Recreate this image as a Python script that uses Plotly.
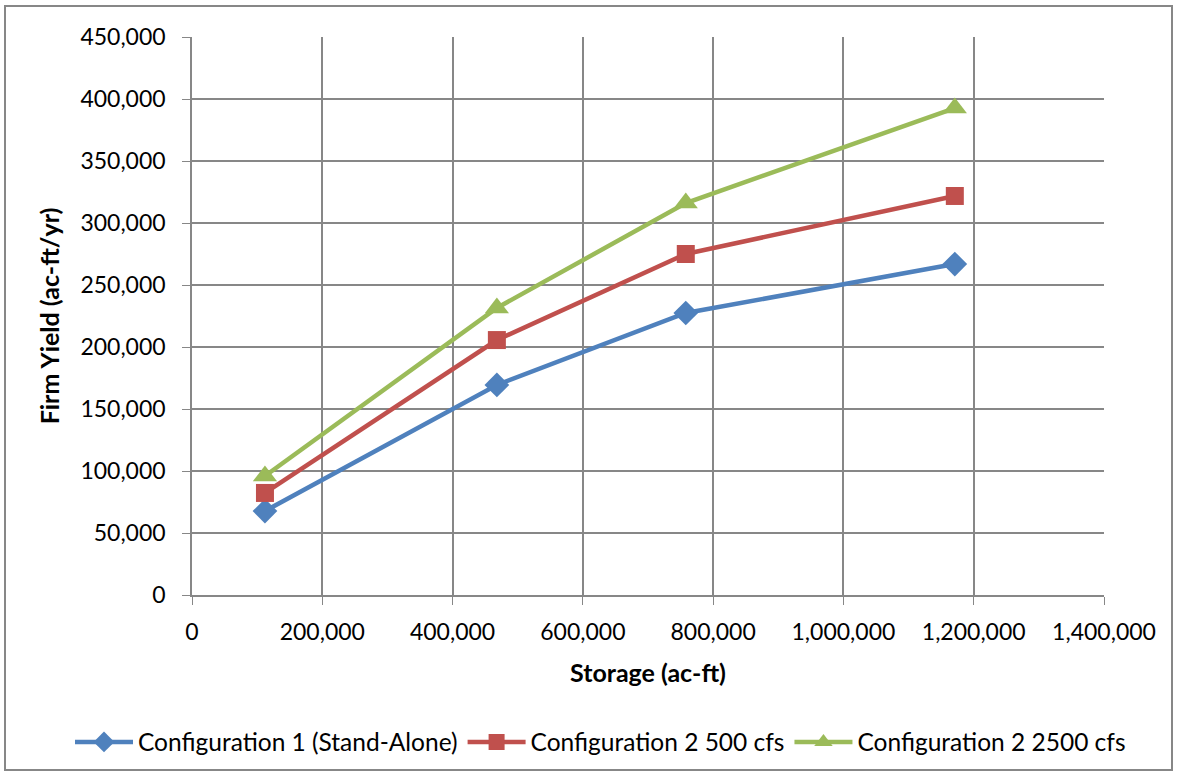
import plotly.graph_objects as go

storage = [112000, 468000, 758000, 1171000]
config1 = [67700, 169400, 227400, 266900]
config2_500 = [82300, 205600, 275000, 321800]
config2_2500 = [96000, 231500, 316100, 392700]

names = ["Configuration 1 (Stand-Alone)", "Configuration 2 500 cfs", "Configuration 2 2500 cfs"]
colors = ["#4F81BD", "#C0504D", "#9BBB59"]
symbols = ["diamond", "square", "triangle-up"]
msizes = [19, 18, 21]
series = [config1, config2_500, config2_2500]

FONT = "Lato"
fig = go.Figure()
for n, c, s, ms, ys in zip(names, colors, symbols, msizes, series):
    fig.add_trace(go.Scatter(
        x=storage, y=ys, name=n, mode="lines+markers",
        line=dict(color=c, width=4.5),
        marker=dict(symbol=s, size=ms, color=c),
    ))

W, H = 1177, 776
L, R, T, B = 192, 73, 37, 181
pw, ph = W - L - R, H - T - B

fig.update_layout(
    width=W, height=H,
    margin=dict(l=L, r=R, t=T, b=B),
    paper_bgcolor="white", plot_bgcolor="white",
    font=dict(family=FONT, size=23, color="#000000"),
    showlegend=True,
    legend=dict(orientation="h", xref="paper", x=(70 - L) / pw, xanchor="left",
                yref="paper", y=-(742 - (T + ph)) / ph, yanchor="middle",
                font=dict(family=FONT, size=24.5), itemwidth=58, tracegroupgap=0),
    xaxis=dict(range=[0, 1400000], dtick=200000, tickformat=",d",
               showgrid=True, gridcolor="#878787", gridwidth=1.5,
               showline=True, linecolor="#878787", linewidth=1.5,
               ticks="outside", ticklen=8, tickcolor="#878787",
               ticklabelstandoff=8,
               zeroline=False,
               title=dict(text="<b>Storage (ac-ft)</b>", font=dict(family=FONT, size=25), standoff=20)),
    yaxis=dict(range=[0, 450000], dtick=50000, tickformat=",d",
               showgrid=True, gridcolor="#878787", gridwidth=1.5,
               showline=True, linecolor="#878787", linewidth=1.5,
               ticks="outside", ticklen=8, tickcolor="#878787",
               ticklabelstandoff=12,
               zeroline=False,
               title=dict(text="<b>Firm Yield (ac-ft/yr)</b>", font=dict(family=FONT, size=25), standoff=14)),
)

# outer chart border
fig.add_shape(type="rect", xref="paper", yref="paper",
              x0=(5 - L) / pw, x1=(1172 - L) / pw,
              y0=-(770 - (T + ph)) / ph, y1=1 + (T - 6) / ph,
              line=dict(color="#878787", width=2), fillcolor="rgba(0,0,0,0)", layer="below")

fig.write_html("out.html", config={"displayModeBar": False},
               post_script="document.body.style.margin='0';document.body.style.overflow='hidden';")
